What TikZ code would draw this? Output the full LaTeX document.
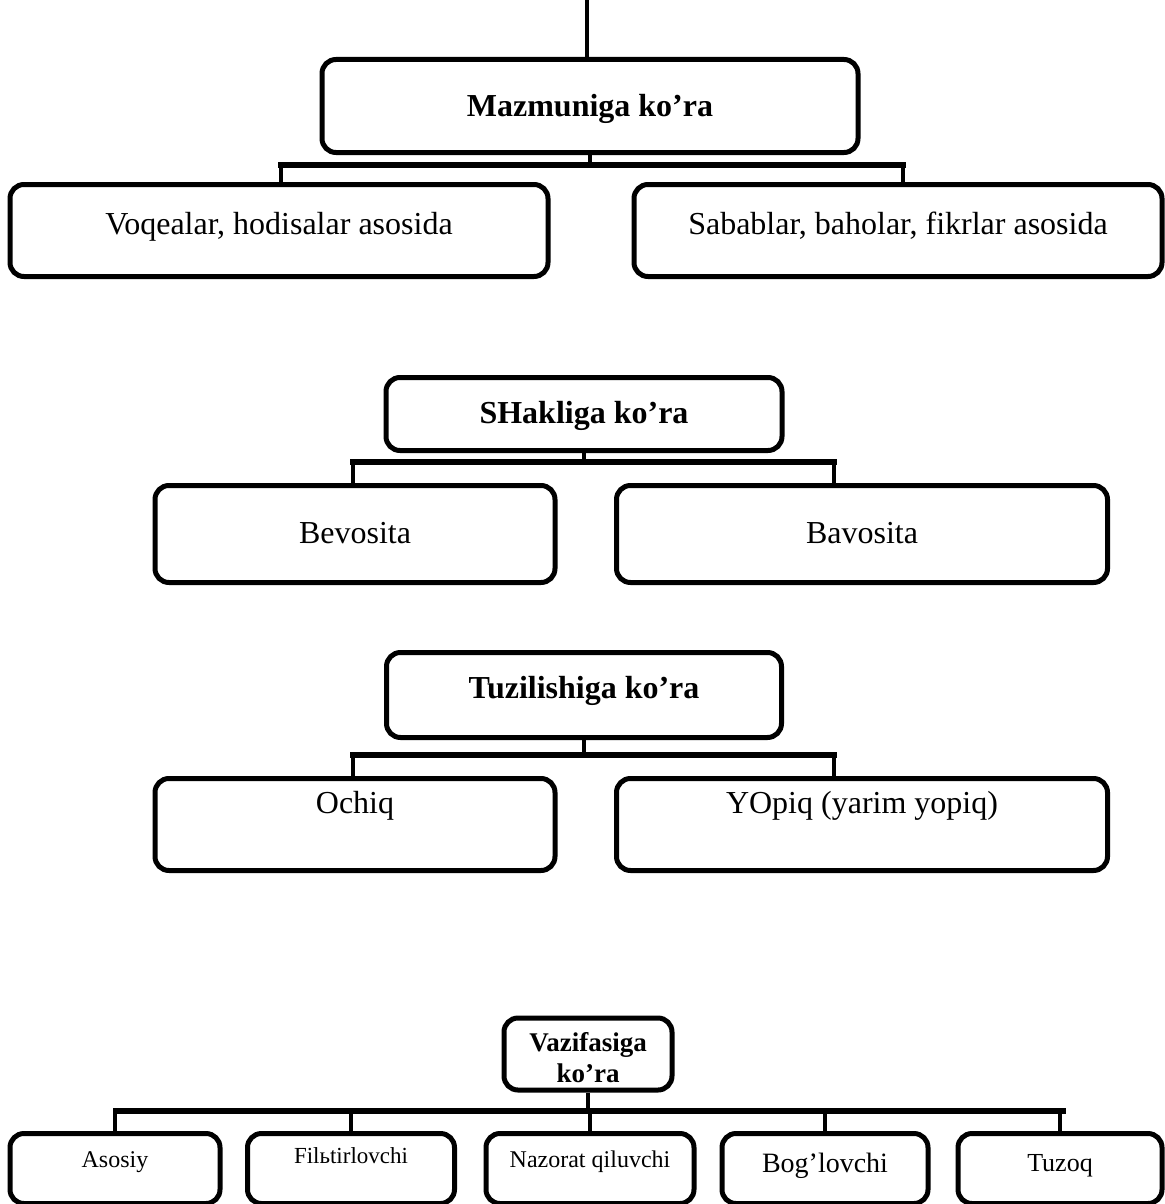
\documentclass[tikz,border=0pt]{standalone}
\usepackage{fontspec}
\setmainfont{Liberation Serif}
\usetikzlibrary{scopes}

\tikzset{
  kbox/.style={draw, line width=5pt, rounded corners=14pt, inner xsep=0pt, inner ysep=0pt, anchor=north, align=center},
  stem/.style={line width=4pt},
  bar/.style={line width=5.5pt, line cap=rect}
}

\begin{document}
\begin{tikzpicture}[x=1pt,y=-1pt]
    \useasboundingbox (0,0) rectangle (1164,1204);
    % headings
    {[every node/.style={kbox, font=\bfseries\fontsize{32}{38}\selectfont}]
    \node[minimum width=536pt, text height=57pt, text depth=36pt] (mazm) at (590,57) {Mazmuniga ko’ra};
    \node[minimum width=396pt, text height=46pt, text depth=27pt] (shak) at (584,375) {SHakliga ko’ra};
    \node[minimum width=395pt, text height=46pt, text depth=39pt] (tuzil) at (584,650) {Tuzilishiga ko’ra};
    \node[minimum width=168pt, text height=64.5pt, text depth=7.5pt, font=\bfseries\fontsize{27}{31}\selectfont] (vazif) at (588,1015.5) {Vazifasiga\\ko’ra};
    }
    % branches
    {[every node/.style={kbox, font=\fontsize{32}{38}\selectfont}]
    \node[minimum width=538pt, text height=50pt, text depth=42pt] (voqea) at (279,182) {Voqealar, hodisalar asosida};
    \node[minimum width=528pt, text height=50pt, text depth=42pt] (sabab) at (898,182) {Sabablar, baholar, fikrlar asosida};
    \node[minimum width=400pt, text height=58pt, text depth=39pt] (bevos) at (355,483) {Bevosita};
    \node[minimum width=491pt, text height=58pt, text depth=39pt] (bavos) at (862,483) {Bavosita};
    \node[minimum width=400pt, text height=35pt, text depth=57pt] (ochiq) at (355,776) {Ochiq};
    \node[minimum width=491pt, text height=35pt, text depth=57pt] (yopiq) at (862,776) {YOpiq (yarim yopiq)};
    }
    {[every node/.style={kbox, minimum height=70pt, text height=34pt, text depth=36pt}]
    \node[minimum width=210pt, font=\fontsize{24}{28}\selectfont] (asos) at (115,1131) {Asosiy};
    \node[minimum width=207pt, font=\fontsize{23}{28}\selectfont, text height=30pt, text depth=40pt] (filt) at (351,1131) {Filьtirlovchi};
    \node[minimum width=208pt, font=\fontsize{24}{28}\selectfont] (nazor) at (590,1131) {Nazorat qiluvchi};
    \node[minimum width=206pt, font=\fontsize{28}{32}\selectfont, text height=39pt, text depth=31pt] (boglo) at (825,1131) {Bog’lovchi};
    \node[minimum width=204pt, font=\fontsize{26}{30}\selectfont, text height=38pt, text depth=32pt] (tuzoq) at (1060,1131) {Tuzoq};
    }
    % junctions
    \coordinate (top) at (587,0);
    \coordinate (b1l) at (281,165);
    \coordinate (b1r) at (903,165);
    \coordinate (b2l) at (353,462);
    \coordinate (b2r) at (834,462);
    \coordinate (b3l) at (353,755);
    \coordinate (b3r) at (834,755);
    \coordinate (b4l) at (116,1111);
    \coordinate (b4r) at (1063,1111);
    {[bar]
      \draw (b1l) -- (b1r);
      \draw (b2l) -- (b2r);
      \draw (b3l) -- (b3r);
      \draw (b4l) -- (b4r);
    }
    {[stem]
      \draw (top) -- (top |- mazm.north);
      \draw (mazm.south) -- (mazm.south |- b1l);
      \draw (b1l) -- (b1l |- voqea.north);
      \draw (b1r) -- (b1r |- sabab.north);
      \draw (shak.south) -- (shak.south |- b2l);
      \draw (b2l) -- (b2l |- bevos.north);
      \draw (b2r) -- (b2r |- bavos.north);
      \draw (tuzil.south) -- (tuzil.south |- b3l);
      \draw (b3l) -- (b3l |- ochiq.north);
      \draw (b3r) -- (b3r |- yopiq.north);
      \draw (vazif.south) -- (vazif.south |- b4l);
      \foreach \n in {asos,filt,nazor,boglo,tuzoq}
        \draw (\n.north |- b4l) -- (\n.north);
    }
\end{tikzpicture}
\end{document}
